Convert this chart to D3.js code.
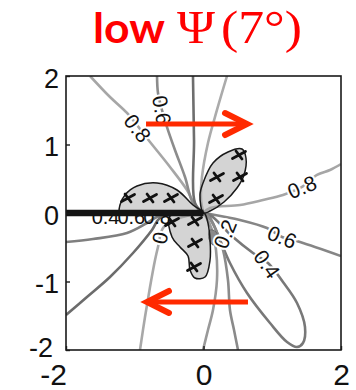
<!DOCTYPE html>
<html>
<head>
<meta charset="utf-8">
<script src="https://cdn.jsdelivr.net/npm/d3@7"></script>
<style>
  body { margin: 0; background: #fff; }
  svg { display: block; }
</style>
</head>
<body>
<svg id="chart" width="356" height="390"></svg>
<script>
// ---- axis ticks ----
const xTickValues = [-2, 0, 2];
const yTickValues = [-2, -1, 0, 1, 2];

// ---- contour lines, in plot units (x, y) ----
const lineA  = [[-1.65, 2.0], [-1.36, 1.693], [-1.113, 1.46], [-0.778, 1.037], [-0.487, 0.672], [-0.24, 0.336], [-0.124, 0.117], [0, 0]];
const lineB  = [[-0.676, 2.0], [-0.662, 1.752], [-0.604, 1.504], [-0.531, 1.255], [-0.415, 0.92], [-0.269, 0.526], [-0.153, 0.146], [0, 0]];
const lineC  = [[-0.153, 2.0], [-0.138, 1.066], [-0.124, 0.146], [0, 0]];
const lineE  = [[0.342, 2.0], [0.196, 1.504], [0.065, 1.022], [-0.022, 0.526], [-0.036, 0.19], [0, 0]];
const lineR8 = [[2.0, 0.715], [1.84, 0.628], [1.651, 0.555], [1.433, 0.38], [1.156, 0.263], [0.865, 0.19], [0.531, 0.117], [0.095, 0.073], [0, 0]];
const lineR6 = [[2.0, -0.628], [1.404, -0.423], [1.142, -0.35], [0.924, -0.219], [0.531, -0.102], [0.095, -0.015], [0, 0]];
const loop04 = [[0, 0], [0.095, -0.029], [0.429, -0.35], [0.72, -0.584], [0.938, -0.73], [1.156, -1.007], [1.36, -1.314], [1.476, -1.664], [1.447, -1.898], [1.36, -1.956], [1.215, -1.883], [0.967, -1.606], [0.633, -1.168], [0.385, -0.73], [0.24, -0.394], [0.095, -0.073], [0, 0]];
const lineD1 = [[-0.924, -2.0], [-0.851, -1.518], [-0.778, -1.08], [-0.705, -0.686], [-0.662, -0.496], [-0.589, -0.219], [-0.415, -0.102], [-0.196, -0.029], [0, 0]];
const lineD2 = [[-0.007, -2.0], [0.065, -1.708], [0.138, -1.416], [0.196, -0.978], [0.182, -0.54], [0.124, -0.248], [0.022, -0.029], [0, 0]];
const lineD3 = [[0.502, -2.0], [0.444, -1.708], [0.385, -1.416], [0.356, -0.978], [0.284, -0.54], [0.182, -0.248], [0.051, -0.029], [0, 0]];
const lineL1 = [[-2.0, -0.423], [-1.607, -0.38], [-1.113, -0.292], [-0.822, -0.146], [-0.676, -0.058], [-0.415, -0.015], [0, 0]];
const lineL2 = [[-2.0, -1.489], [-1.695, -1.226], [-1.36, -0.934], [-1.025, -0.584], [-0.749, -0.248], [-0.633, -0.073], [-0.342, -0.015], [0, 0]];

// ---- shaded lobes ----
const lobeLeft  = [[0, 0], [-0.153, 0.117], [-0.385, 0.336], [-0.676, 0.438], [-0.967, 0.394], [-1.142, 0.263], [-1.215, 0.117], [-1.215, 0], [-0.6, 0]];
const lobeRight = [[0, 0], [-0.051, 0.263], [-0.007, 0.438], [0.138, 0.73], [0.356, 0.891], [0.56, 0.934], [0.618, 0.803], [0.589, 0.555], [0.487, 0.365], [0.298, 0.161], [0.095, 0.029]];
const lobeLower = [[0, 0], [-0.487, -0.044], [-0.458, -0.35], [-0.342, -0.496], [-0.225, -0.628], [-0.196, -0.832], [-0.124, -0.949], [0.022, -0.934], [0.095, -0.686], [0.095, -0.394], [0.065, -0.146], [0.022, -0.015]];
const blob = [[0.095, -0.248], [0.182, -0.277], [0.211, -0.409], [0.138, -0.467], [0.08, -0.38]];

// ---- cross markers inside the lobes ----
const crossX = [-1.098, -0.778, -0.473, 0.516, 0.531, 0.196, 0.182, -0.458, -0.124, -0.124, -0.138];
const crossY = [0.219, 0.219, 0.219, 0.847, 0.526, 0.526, 0.204, -0.131, -0.117, -0.438, -0.788];

// ---- contour labels ----
const lineLabels = [
  { text: "0.8", x: -0.96,  y: 1.24,   angle: 52 },
  { text: "0.6", x: -0.604, y: 1.504,  angle: 80 },
  { text: "0.8", x: 1.433,  y: 0.38,   angle: -22 },
  { text: "0.6", x: 1.142,  y: -0.35,  angle: 22 },
  { text: "0.4", x: 0.924,  y: -0.745, angle: 55 },
  { text: "0",   x: -0.633, y: -0.365, angle: -80 },
  { text: "0.2", x: 0.313,  y: -0.307, angle: -68 }
];
const axisLabels = [
  { text: "0.4", x: -1.425, y: -0.055 },
  { text: "0.6", x: -1.05,  y: -0.055 },
  { text: "0.8", x: -0.675, y: -0.055 }
];

// ---- direction arrows ----
const arrowRight = [[-0.836, 1.299], [0.633, 1.299]];
const arrowLeft  = [[0.647, -1.299], [-0.822, -1.299]];

// ---- title ----
const titleWord = "low";
const titleSymbol = "\u03A8";
const titleAngle = "(7\u00B0)";

// ---------------------------------------------------------------
const svg = d3.select("#chart");
const sans = "'Liberation Sans', Arial, Helvetica, sans-serif";

const x = d3.scaleLinear().domain([-2, 2]).range([66, 341]);
const y = d3.scaleLinear().domain([-2, 2]).range([350, 76]);

svg.append("defs").append("clipPath").attr("id", "plotClip")
  .append("rect").attr("x", 66).attr("y", 76).attr("width", 275).attr("height", 274);

const plot = svg.append("g").attr("clip-path", "url(#plotClip)");

const smooth = d3.line().x(d => x(d[0])).y(d => y(d[1])).curve(d3.curveCatmullRom.alpha(0.5));
const closed = d3.line().x(d => x(d[0])).y(d => y(d[1])).curve(d3.curveCatmullRomClosed.alpha(0.5));

const lobes = [lobeLeft, lobeRight, lobeLower];

// lobe fill underneath the contour lines
plot.selectAll("path.lobeFill").data(lobes).join("path")
  .attr("class", "lobeFill")
  .attr("d", closed)
  .attr("fill", "#d4d4d4")
  .attr("stroke", "none");

const contours = [
  { pts: lineA,  shade: "#a6a6a6" },
  { pts: lineB,  shade: "#8c8c8c" },
  { pts: lineC,  shade: "#6e6e6e" },
  { pts: lineE,  shade: "#ababab" },
  { pts: lineR8, shade: "#a6a6a6" },
  { pts: lineR6, shade: "#868686" },
  { pts: loop04, shade: "#787878" },
  { pts: lineD1, shade: "#a8a8a8" },
  { pts: lineD2, shade: "#999999" },
  { pts: lineD3, shade: "#8a8a8a" },
  { pts: lineL1, shade: "#7f7f7f" },
  { pts: lineL2, shade: "#6c6c6c" }
];

plot.selectAll("path.contour").data(contours).join("path")
  .attr("class", "contour")
  .attr("d", d => smooth(d.pts))
  .attr("fill", "none")
  .attr("stroke", d => d.shade)
  .attr("stroke-width", 2.6)
  .attr("stroke-linejoin", "round");

plot.append("path")
  .attr("d", closed(blob))
  .attr("fill", "#8a8a8a")
  .attr("stroke", "#6a6a6a")
  .attr("stroke-width", 1);

// lobe outlines
plot.selectAll("path.lobeEdge").data(lobes).join("path")
  .attr("class", "lobeEdge")
  .attr("d", closed)
  .attr("fill", "none")
  .attr("stroke", "#1a1a1a")
  .attr("stroke-width", 1.5);

// cross markers
plot.selectAll("path.cross").data(d3.range(crossX.length)).join("path")
  .attr("class", "cross")
  .attr("transform", i => `translate(${x(crossX[i])},${y(crossY[i])})`)
  .attr("d", "M-6.5,3.5L6.5,-3.5M-3,-4L3,4")
  .attr("stroke", "#111")
  .attr("stroke-width", 2.8)
  .attr("stroke-linecap", "round");

// labels sitting along the negative x axis
plot.selectAll("text.axisLab").data(axisLabels).join("text")
  .attr("class", "axisLab")
  .attr("x", d => x(d.x)).attr("y", d => y(d.y))
  .attr("text-anchor", "middle")
  .attr("dominant-baseline", "central")
  .attr("font-family", sans)
  .attr("font-size", 20)
  .attr("fill", "#111")
  .text(d => d.text);

// heavy line along y = 0, x < 0
plot.append("line")
  .attr("x1", x(-2)).attr("x2", x(0))
  .attr("y1", y(0)).attr("y2", y(0))
  .attr("stroke", "#141414")
  .attr("stroke-width", 6.5);

// inline contour labels
plot.selectAll("text.lineLab").data(lineLabels).join("text")
  .attr("class", "lineLab")
  .attr("transform", d => `translate(${x(d.x)},${y(d.y)}) rotate(${d.angle})`)
  .attr("text-anchor", "middle")
  .attr("dominant-baseline", "central")
  .attr("font-family", sans)
  .attr("font-size", 21)
  .attr("fill", "#111")
  .attr("stroke", "#fff")
  .attr("stroke-width", 4)
  .attr("paint-order", "stroke")
  .text(d => d.text);

// frame
svg.append("rect")
  .attr("x", 66).attr("y", 76).attr("width", 275).attr("height", 274)
  .attr("fill", "none").attr("stroke", "#1a1a1a").attr("stroke-width", 1.6);

// axes
const yAxis = svg.append("g").attr("transform", "translate(66,0)")
  .call(d3.axisLeft(y).tickValues(yTickValues).tickSize(-4).tickPadding(7).tickFormat(d3.format("d")));
const xAxis = svg.append("g").attr("transform", "translate(0,350)")
  .call(d3.axisBottom(x).tickValues(xTickValues).tickSize(-4).tickPadding(13).tickFormat(d3.format("d")));

[yAxis, xAxis].forEach(g => {
  g.select(".domain").remove();
  g.selectAll(".tick line").attr("stroke", "#1a1a1a").attr("stroke-width", 1.4);
  g.selectAll(".tick text").attr("font-family", sans).attr("fill", "#111");
});
yAxis.selectAll(".tick text").attr("font-size", 27).attr("dy", "0.42em").text(d => d < 0 ? "-" + Math.abs(d) : d);
xAxis.selectAll(".tick text").attr("font-size", 30).attr("dy", "0.72em").text(d => d < 0 ? "-" + Math.abs(d) : d);
// keep the two corner "-2" labels apart
yAxis.selectAll(".tick text").filter(d => d === -2).attr("x", -13).attr("dy", "0.24em");
xAxis.selectAll(".tick text").filter(d => d === -2).attr("x", -13);

// arrows
const arrowColor = "#ff2a00";
const headLen = 22, headHalf = 11;
[arrowRight, arrowLeft].forEach(a => {
  const x0 = x(a[0][0]), y0 = y(a[0][1]);
  const x1 = x(a[1][0]), y1 = y(a[1][1]);
  const dir = Math.sign(x1 - x0);
  svg.append("line")
    .attr("x1", x0).attr("y1", y0).attr("x2", x1 - dir * 5).attr("y2", y1)
    .attr("stroke", arrowColor).attr("stroke-width", 5);
  svg.append("path")
    .attr("d", `M${x1 - dir * headLen},${y1 - headHalf}L${x1},${y1}L${x1 - dir * headLen},${y1 + headHalf}`)
    .attr("fill", "none")
    .attr("stroke", arrowColor)
    .attr("stroke-width", 6)
    .attr("stroke-linecap", "round")
    .attr("stroke-linejoin", "miter");
});

// title
const title = svg.append("text").attr("y", 43).attr("fill", "#ff0000");
title.append("tspan").attr("x", 93)
  .attr("font-family", "Lato, 'Open Sans', sans-serif").attr("font-weight", 700)
  .attr("font-size", 42).attr("textLength", 72).attr("lengthAdjust", "spacingAndGlyphs")
  .text(titleWord);
title.append("tspan").attr("x", 177)
  .attr("font-family", "'Liberation Serif', 'DejaVu Serif', serif")
  .attr("font-size", 46).attr("textLength", 38).attr("lengthAdjust", "spacingAndGlyphs")
  .text(titleSymbol);
title.append("tspan").attr("x", 221)
  .attr("font-family", "'Liberation Serif', 'DejaVu Serif', serif")
  .attr("font-size", 46).attr("textLength", 81).attr("lengthAdjust", "spacingAndGlyphs")
  .text(titleAngle);
</script>
</body>
</html>
